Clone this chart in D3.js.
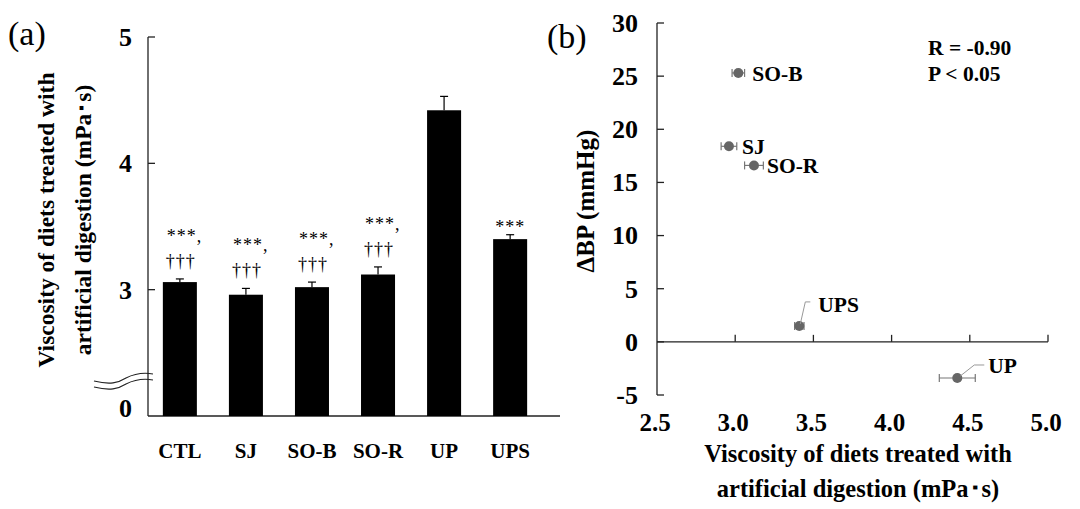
<!DOCTYPE html>
<html><head><meta charset="utf-8">
<script src="https://cdn.jsdelivr.net/npm/d3@7"></script>
<style>
html,body{margin:0;padding:0;background:#fff;}
text{font-family:"Liberation Serif","Times New Roman",serif;fill:#000;-webkit-font-smoothing:antialiased;}
</style></head>
<body>
<svg id="c" width="1080" height="509"></svg>
<script>
// ---- Panel (a) data ----
const groups = ["CTL", "SJ", "SO-B", "SO-R", "UP", "UPS"];
const viscosity = [3.06, 2.96, 3.02, 3.12, 4.42, 3.40];
const viscositySE = [0.025, 0.05, 0.04, 0.06, 0.11, 0.035];
const sigStars = ["***,", "***,", "***,", "***,", "", "***"];
const sigDaggers = ["†††", "†††", "†††", "†††", "", ""];
const yTicksA = [3, 4, 5];
const yBreakValue = 2;        // position of the broken-axis "0"
const yBreakLabel = "0";

// ---- Panel (b) data ----
const pointLabels = ["SO-B", "SJ", "SO-R", "UPS", "UP"];
const pointX = [3.02, 2.96, 3.12, 3.41, 4.42];
const pointXErr = [0.04, 0.05, 0.06, 0.03, 0.115];
const deltaBP = [25.3, 18.4, 16.6, 1.5, -3.4];
const xTicksB = [2.5, 3.0, 3.5, 4.0, 4.5, 5.0];
const yTicksB = [-5, 0, 5, 10, 15, 20, 25, 30];
const statR = "R = -0.90";
const statP = "P < 0.05";

const svg = d3.select("#c");
const axisColor = "#222";

// ===== Panel (a) =====
const ya = d3.scaleLinear().domain([2, 5]).range([416, 37]);
const xa = d3.scaleBand().domain(groups).range([147, 543]).paddingInner(0.485).paddingOuter(0.24);
const gA = svg.append("g");

gA.append("line").attr("x1", 148).attr("x2", 148).attr("y1", ya(5)).attr("y2", ya(2))
  .attr("stroke", axisColor).attr("stroke-width", 1.3);
gA.append("line").attr("x1", 148).attr("x2", 560).attr("y1", ya(2)).attr("y2", ya(2))
  .attr("stroke", axisColor).attr("stroke-width", 1.3);
yTicksA.forEach(t => {
  gA.append("line").attr("x1", 148).attr("x2", 155).attr("y1", ya(t)).attr("y2", ya(t))
    .attr("stroke", axisColor).attr("stroke-width", 1.3);
  gA.append("text").attr("x", 132).attr("y", ya(t)).attr("dy", "0.34em")
    .attr("text-anchor", "end").attr("font-size", 26).attr("font-weight", "bold").text(t);
});
gA.append("text").attr("x", 132).attr("y", ya(yBreakValue) - 8).attr("dy", "0.34em")
  .attr("text-anchor", "end").attr("font-size", 26).attr("font-weight", "bold").text(yBreakLabel);

// break symbol
[0, 6].forEach(off => {
  gA.append("path")
    .attr("d", `M94,${381 + off} C110,${385 + off} 118,${383 + off} 126,${378 + off} C134,${374 + off} 142,${372 + off} 153,${374 + off}`)
    .attr("fill", "none").attr("stroke", axisColor).attr("stroke-width", 1.1);
});

// bars
gA.selectAll("rect.bar").data(groups).enter().append("rect")
  .attr("x", d => xa(d)).attr("width", xa.bandwidth())
  .attr("y", (d, i) => ya(viscosity[i]))
  .attr("height", (d, i) => ya(2) - ya(viscosity[i]))
  .attr("fill", "#000");
groups.forEach((g, i) => {
  const cx = xa(g) + xa.bandwidth() / 2;
  const top = ya(viscosity[i] + viscositySE[i]);
  gA.append("line").attr("x1", cx).attr("x2", cx).attr("y1", ya(viscosity[i])).attr("y2", top)
    .attr("stroke", "#000").attr("stroke-width", 1.2);
  gA.append("line").attr("x1", cx - 4).attr("x2", cx + 4).attr("y1", top).attr("y2", top)
    .attr("stroke", "#000").attr("stroke-width", 1.2);
  if (sigDaggers[i]) {
    gA.append("text").attr("x", cx + 1).attr("y", top - 12).attr("text-anchor", "middle")
      .attr("font-size", 18).attr("letter-spacing", 1).text(sigDaggers[i]);
    gA.append("text").attr("x", cx - 13).attr("y", top - 37).attr("text-anchor", "start")
      .attr("font-size", 18).attr("letter-spacing", 1).text(sigStars[i]);
  } else if (sigStars[i]) {
    gA.append("text").attr("x", cx).attr("y", top - 2).attr("text-anchor", "middle")
      .attr("font-size", 18).attr("letter-spacing", 1).text(sigStars[i]);
  }
  gA.append("text").attr("x", cx).attr("y", 458).attr("text-anchor", "middle")
    .attr("font-size", 21).attr("font-weight", "bold").text(g);
});

gA.append("text").attr("transform", "translate(54,220) rotate(-90)").attr("text-anchor", "middle")
  .attr("font-size", 23.5).attr("font-weight", "bold").text("Viscosity of diets treated with");
gA.append("text").attr("transform", "translate(91,220) rotate(-90)").attr("text-anchor", "middle")
  .attr("font-size", 23.5).attr("font-weight", "bold").text("artificial digestion (mPa･s)");
gA.append("text").attr("x", 8).attr("y", 45).attr("font-size", 34).text("(a)");

// ===== Panel (b) =====
const xb = d3.scaleLinear().domain([2.5, 5.0]).range([657, 1048]);
const yb = d3.scaleLinear().domain([-5, 30]).range([395, 23]);
const gB = svg.append("g");

gB.append("line").attr("x1", xb(2.5)).attr("x2", xb(2.5)).attr("y1", yb(30)).attr("y2", yb(-5))
  .attr("stroke", axisColor).attr("stroke-width", 1.3);
gB.append("line").attr("x1", xb(2.5)).attr("x2", xb(5)).attr("y1", yb(0)).attr("y2", yb(0))
  .attr("stroke", axisColor).attr("stroke-width", 1.3);
yTicksB.forEach(t => {
  gB.append("line").attr("x1", xb(2.5)).attr("x2", xb(2.5) + 7).attr("y1", yb(t)).attr("y2", yb(t))
    .attr("stroke", axisColor).attr("stroke-width", 1.3);
  gB.append("text").attr("x", 638).attr("y", yb(t)).attr("dy", "0.34em").attr("text-anchor", "end")
    .attr("font-size", 26).attr("font-weight", "bold").text(t);
});
xTicksB.forEach(t => {
  if (t > 2.5) gB.append("line").attr("x1", xb(t)).attr("x2", xb(t)).attr("y1", yb(0)).attr("y2", yb(0) - 7)
    .attr("stroke", axisColor).attr("stroke-width", 1.3);
  gB.append("text").attr("x", xb(t) - 2).attr("y", 431).attr("text-anchor", "middle")
    .attr("font-size", 25).attr("font-weight", "bold").text(d3.format(".1f")(t));
});

const ptColor = "#666";
pointLabels.forEach((lab, i) => {
  const cx = xb(pointX[i]), cy = yb(deltaBP[i]);
  const x0 = xb(pointX[i] - pointXErr[i]), x1 = xb(pointX[i] + pointXErr[i]);
  gB.append("line").attr("x1", x0).attr("x2", x1).attr("y1", cy).attr("y2", cy)
    .attr("stroke", "#777").attr("stroke-width", 1.2);
  [x0, x1].forEach(xx => gB.append("line").attr("x1", xx).attr("x2", xx).attr("y1", cy - 4).attr("y2", cy + 4)
    .attr("stroke", "#777").attr("stroke-width", 1.2));
  gB.append("circle").attr("cx", cx).attr("cy", cy).attr("r", 5).attr("fill", ptColor);
});
const labelOffsets = {"SO-B": [14, 8], "SJ": [13, 8], "SO-R": [13, 8], "UPS": [19, -14], "UP": [31, -5]};
pointLabels.forEach((lab, i) => {
  const cx = xb(pointX[i]), cy = yb(deltaBP[i]);
  const o = labelOffsets[lab];
  gB.append("text").attr("x", cx + o[0]).attr("y", cy + o[1]).attr("font-size", 21.5)
    .attr("font-weight", "bold").text(lab);
});
(function () {
  const iU = pointLabels.indexOf("UPS");
  const cx = xb(pointX[iU]), cy = yb(deltaBP[iU]);
  gB.append("path").attr("d", `M${cx + 1},${cy - 2} L${cx + 6},${cy - 24} L${cx + 11},${cy - 24}`)
    .attr("fill", "none").attr("stroke", "#999").attr("stroke-width", 1);
  const iP = pointLabels.indexOf("UP");
  const px = xb(pointX[iP]), py = yb(deltaBP[iP]);
  gB.append("path").attr("d", `M${px + 3},${py - 2} L${px + 17},${py - 13} L${px + 27},${py - 13}`)
    .attr("fill", "none").attr("stroke", "#999").attr("stroke-width", 1);
})();

gB.append("text").attr("x", 928).attr("y", 55).attr("font-size", 21.5).attr("font-weight", "bold").text(statR);
gB.append("text").attr("x", 928).attr("y", 81).attr("font-size", 21.5).attr("font-weight", "bold").text(statP);

gB.append("text").attr("transform", "translate(594,201) rotate(-90)").attr("text-anchor", "middle")
  .attr("font-size", 25).attr("font-weight", "bold").text("ΔBP (mmHg)");
gB.append("text").attr("x", 858).attr("y", 462).attr("text-anchor", "middle")
  .attr("font-size", 24.5).attr("font-weight", "bold").text("Viscosity of diets treated with");
gB.append("text").attr("x", 858).attr("y", 497).attr("text-anchor", "middle")
  .attr("font-size", 24.5).attr("font-weight", "bold").text("artificial digestion (mPa･s)");
gB.append("text").attr("x", 547).attr("y", 48).attr("font-size", 34).text("(b)");
</script>
</body></html>
